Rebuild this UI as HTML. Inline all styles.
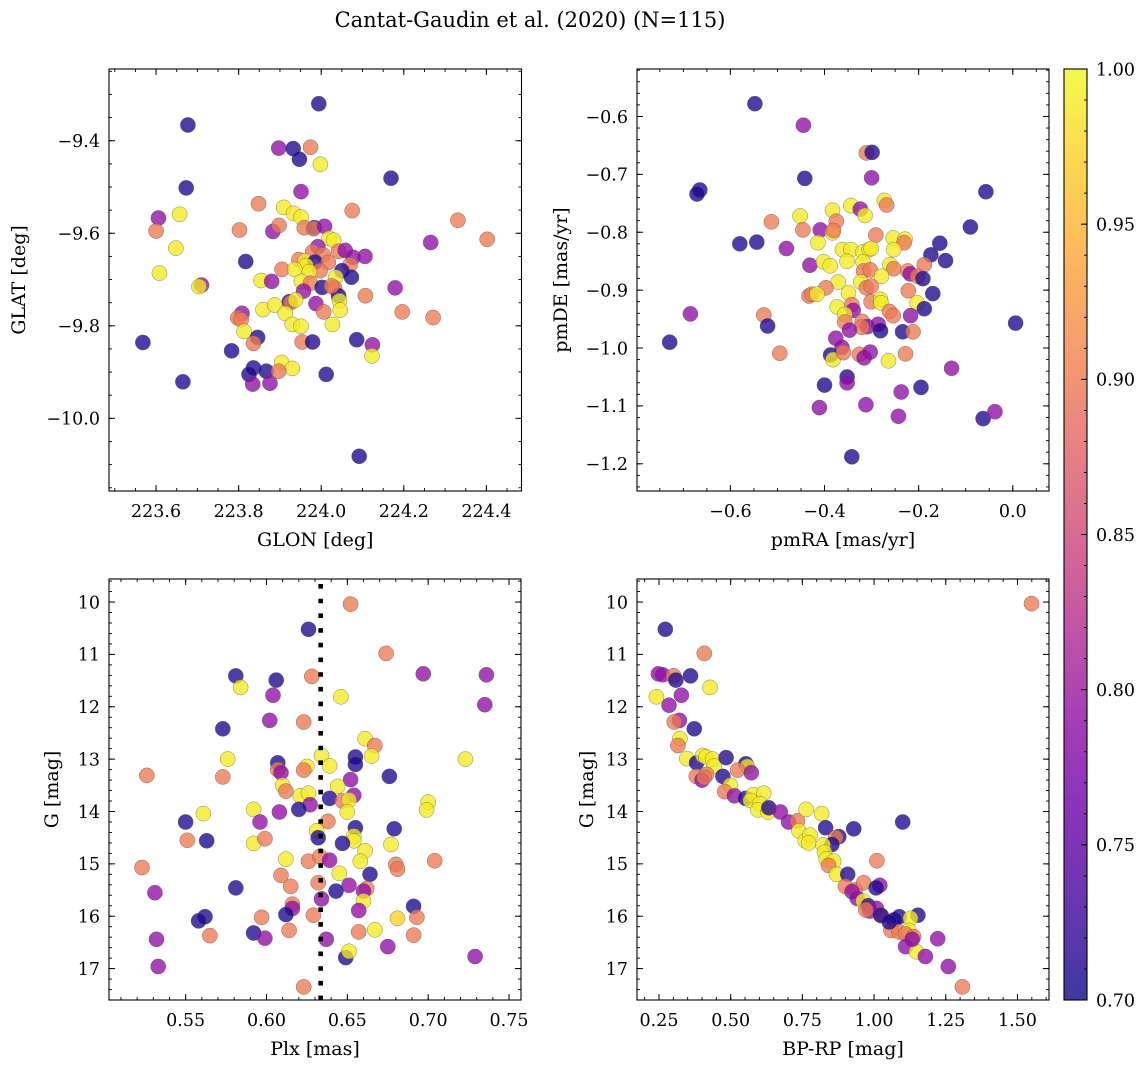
<!DOCTYPE html>
<html><head><meta charset="utf-8"><style>
html,body{margin:0;padding:0;background:#fff;}
svg text{font-family:"DejaVu Serif","Liberation Serif",serif;fill:#000;}
</style></head><body>
<svg id="fig" width="1148" height="1068" viewBox="0 0 1148 1068" xmlns="http://www.w3.org/2000/svg">
<defs><linearGradient id="plasma" x1="0" y1="1" x2="0" y2="0">
<stop offset="0" stop-color="#0d0887"/><stop offset="0.1" stop-color="#41049d"/><stop offset="0.2" stop-color="#6a00a8"/><stop offset="0.3" stop-color="#8f0da4"/><stop offset="0.4" stop-color="#b12a90"/><stop offset="0.5" stop-color="#cc4778"/><stop offset="0.6" stop-color="#e16462"/><stop offset="0.7" stop-color="#f2844b"/><stop offset="0.8" stop-color="#fca636"/><stop offset="0.9" stop-color="#fcce25"/><stop offset="1" stop-color="#f0f921"/>
</linearGradient></defs>
<text x="530" y="27" font-size="21" text-anchor="middle">Cantat-Gaudin et al. (2020) (N=115)</text>
</svg>
<script>
// Panel 1: GLON / GLAT
const glon=[223.994,223.677,223.897,223.932,223.974,223.947,223.998,224.169,223.673,223.951,223.848,223.909,223.933,223.951,224.075,223.657,223.606,223.600,223.802,223.883,223.898,223.959,223.983,223.981,224.008,224.331,224.402,224.265,223.648,224.019,224.030,223.992,223.979,224.005,224.042,224.058,224.077,224.106,223.817,223.946,223.961,223.985,223.963,224.017,223.997,224.070,223.608,223.905,223.936,223.971,224.050,224.073,223.854,223.880,223.952,223.974,224.035,223.710,223.704,224.002,224.032,223.957,224.179,224.042,224.044,224.107,223.923,223.926,223.938,223.987,224.046,223.859,223.887,223.913,224.006,224.196,224.271,223.808,223.798,223.806,223.930,223.951,224.027,223.813,223.846,223.836,223.568,223.783,223.954,223.979,224.086,224.124,224.123,223.904,223.930,223.836,223.825,223.867,223.897,224.012,223.665,223.834,223.876,224.092,224.025];
const glat=[-9.320,-9.366,-9.416,-9.417,-9.414,-9.440,-9.451,-9.481,-9.502,-9.510,-9.536,-9.544,-9.557,-9.565,-9.551,-9.559,-9.567,-9.595,-9.593,-9.596,-9.583,-9.588,-9.588,-9.590,-9.585,-9.572,-9.613,-9.620,-9.632,-9.611,-9.615,-9.629,-9.640,-9.647,-9.639,-9.637,-9.652,-9.650,-9.661,-9.657,-9.660,-9.662,-9.670,-9.663,-9.681,-9.668,-9.686,-9.678,-9.678,-9.683,-9.681,-9.695,-9.702,-9.704,-9.704,-9.708,-9.695,-9.712,-9.715,-9.717,-9.718,-9.725,-9.718,-9.735,-9.746,-9.735,-9.748,-9.750,-9.744,-9.752,-9.766,-9.765,-9.755,-9.773,-9.770,-9.770,-9.782,-9.773,-9.783,-9.787,-9.797,-9.801,-9.797,-9.812,-9.825,-9.838,-9.836,-9.854,-9.835,-9.835,-9.830,-9.841,-9.865,-9.879,-9.892,-9.891,-9.905,-9.898,-9.898,-9.905,-9.921,-9.926,-9.924,-10.082,-9.714];
const prob1=[0.71,0.71,0.79,0.71,0.90,0.71,0.99,0.71,0.71,0.79,0.90,0.99,0.99,0.99,0.90,0.99,0.79,0.90,0.90,0.79,0.90,0.90,0.71,0.90,0.79,0.90,0.90,0.79,0.99,0.99,0.99,0.79,0.90,0.90,0.90,0.79,0.79,0.79,0.71,0.90,0.99,0.71,0.99,0.90,0.90,0.90,0.99,0.90,0.99,0.99,0.71,0.71,0.99,0.79,0.99,0.90,0.99,0.79,0.99,0.71,0.90,0.79,0.79,0.71,0.99,0.90,0.71,0.90,0.99,0.79,0.99,0.99,0.99,0.99,0.90,0.90,0.90,0.79,0.90,0.90,0.99,0.99,0.99,0.99,0.71,0.90,0.71,0.71,0.90,0.71,0.71,0.79,0.99,0.99,0.99,0.71,0.71,0.71,0.90,0.71,0.71,0.79,0.79,0.71,0.90];
// Panel 2: proper motions
const pmra=[-0.548,-0.445,-0.311,-0.299,-0.442,-0.300,-0.665,-0.671,-0.057,-0.273,-0.268,-0.452,-0.383,-0.344,-0.324,-0.314,-0.513,-0.446,-0.409,-0.375,-0.383,-0.381,-0.090,-0.291,-0.580,-0.544,-0.481,-0.414,-0.362,-0.344,-0.318,-0.305,-0.301,-0.254,-0.229,-0.231,-0.253,-0.155,-0.174,-0.143,-0.431,-0.402,-0.388,-0.352,-0.318,-0.317,-0.303,-0.261,-0.253,-0.188,-0.223,-0.218,-0.202,-0.191,-0.279,-0.371,-0.323,-0.397,-0.311,-0.301,-0.349,-0.222,-0.170,-0.433,-0.427,-0.416,-0.342,-0.301,-0.281,-0.280,-0.203,-0.188,-0.373,-0.339,-0.357,-0.262,-0.254,-0.217,-0.685,-0.529,-0.521,-0.357,-0.320,-0.309,-0.321,-0.347,-0.286,-0.281,-0.234,-0.212,-0.729,-0.376,-0.363,-0.387,-0.382,-0.360,-0.495,-0.326,-0.316,-0.303,-0.264,-0.228,-0.352,-0.352,-0.400,-0.130,-0.195,-0.237,-0.411,-0.312,-0.243,-0.063,-0.038,0.006,-0.342];
const pmde=[-0.578,-0.615,-0.663,-0.662,-0.707,-0.706,-0.727,-0.734,-0.730,-0.745,-0.753,-0.772,-0.762,-0.754,-0.760,-0.771,-0.782,-0.796,-0.796,-0.781,-0.801,-0.797,-0.791,-0.805,-0.820,-0.817,-0.828,-0.818,-0.830,-0.830,-0.834,-0.830,-0.828,-0.810,-0.812,-0.818,-0.830,-0.819,-0.839,-0.849,-0.857,-0.851,-0.858,-0.850,-0.851,-0.867,-0.865,-0.856,-0.863,-0.856,-0.867,-0.872,-0.876,-0.880,-0.876,-0.886,-0.886,-0.896,-0.896,-0.893,-0.905,-0.901,-0.906,-0.910,-0.907,-0.907,-0.925,-0.920,-0.916,-0.922,-0.922,-0.932,-0.929,-0.935,-0.942,-0.937,-0.944,-0.944,-0.941,-0.943,-0.962,-0.955,-0.954,-0.963,-0.964,-0.969,-0.959,-0.970,-0.972,-0.972,-0.990,-0.983,-0.999,-1.012,-1.020,-1.008,-1.009,-1.011,-1.017,-1.007,-1.022,-1.010,-1.050,-1.060,-1.064,-1.035,-1.068,-1.076,-1.103,-1.098,-1.118,-1.122,-1.110,-0.957,-1.188];
const prob2=[0.71,0.79,0.90,0.71,0.71,0.79,0.71,0.71,0.71,0.99,0.90,0.99,0.99,0.99,0.79,0.99,0.90,0.90,0.79,0.90,0.99,0.90,0.71,0.90,0.71,0.71,0.79,0.99,0.99,0.99,0.99,0.99,0.99,0.99,0.99,0.90,0.99,0.71,0.71,0.71,0.79,0.99,0.99,0.99,0.99,0.90,0.90,0.99,0.90,0.90,0.90,0.79,0.90,0.71,0.99,0.99,0.99,0.90,0.90,0.90,0.99,0.90,0.71,0.90,0.90,0.99,0.90,0.90,0.99,0.99,0.99,0.71,0.99,0.79,0.99,0.90,0.90,0.79,0.79,0.90,0.71,0.90,0.90,0.79,0.90,0.79,0.79,0.71,0.71,0.90,0.71,0.79,0.79,0.71,0.99,0.90,0.90,0.90,0.79,0.79,0.99,0.90,0.71,0.79,0.71,0.79,0.71,0.79,0.79,0.79,0.79,0.71,0.79,0.71,0.71];
// Panel 3: parallax vs G
const plx=[0.652,0.626,0.674,0.697,0.736,0.581,0.606,0.628,0.584,0.604,0.646,0.735,0.602,0.623,0.573,0.661,0.667,0.634,0.655,0.665,0.723,0.576,0.607,0.655,0.639,0.625,0.623,0.607,0.609,0.526,0.573,0.676,0.652,0.610,0.612,0.644,0.621,0.626,0.627,0.620,0.639,0.654,0.647,0.651,0.650,0.608,0.592,0.700,0.699,0.561,0.550,0.596,0.638,0.655,0.679,0.631,0.632,0.654,0.654,0.551,0.563,0.592,0.599,0.647,0.677,0.661,0.612,0.626,0.633,0.639,0.658,0.704,0.680,0.681,0.523,0.664,0.645,0.609,0.632,0.615,0.651,0.643,0.662,0.660,0.581,0.531,0.634,0.660,0.616,0.616,0.691,0.657,0.612,0.629,0.597,0.562,0.558,0.681,0.693,0.614,0.657,0.667,0.691,0.592,0.565,0.599,0.532,0.637,0.675,0.649,0.651,0.729,0.533,0.623];
const gmag3=[10.04,10.52,10.98,11.37,11.39,11.41,11.49,11.42,11.63,11.78,11.81,11.96,12.26,12.29,12.42,12.61,12.74,12.93,12.96,12.94,13.00,13.00,13.07,13.10,13.13,13.14,13.21,13.20,13.26,13.31,13.34,13.33,13.39,13.50,13.61,13.52,13.70,13.65,13.87,13.96,13.75,13.69,13.80,13.78,14.01,14.01,13.96,13.82,13.97,14.04,14.20,14.20,14.19,14.31,14.33,14.37,14.50,14.47,14.56,14.55,14.56,14.61,14.52,14.61,14.63,14.75,14.91,14.95,14.86,14.93,14.95,14.94,15.01,15.10,15.07,15.20,15.18,15.22,15.36,15.43,15.41,15.52,15.47,15.52,15.46,15.55,15.67,15.71,15.77,15.85,15.81,15.89,15.97,15.98,16.02,16.01,16.09,16.04,16.02,16.27,16.30,16.26,16.36,16.32,16.37,16.42,16.44,16.44,16.58,16.79,16.67,16.77,16.96,17.35];
const prob3=[0.90,0.71,0.90,0.79,0.79,0.71,0.71,0.90,0.99,0.79,0.99,0.79,0.79,0.90,0.71,0.99,0.90,0.99,0.71,0.99,0.99,0.99,0.71,0.71,0.99,0.99,0.90,0.90,0.79,0.90,0.90,0.71,0.79,0.99,0.90,0.99,0.99,0.99,0.79,0.71,0.71,0.79,0.90,0.99,0.99,0.79,0.99,0.99,0.99,0.99,0.71,0.79,0.90,0.71,0.71,0.99,0.71,0.99,0.99,0.90,0.71,0.99,0.90,0.71,0.99,0.99,0.99,0.90,0.90,0.79,0.99,0.90,0.90,0.90,0.90,0.71,0.99,0.90,0.90,0.90,0.79,0.71,0.90,0.79,0.71,0.79,0.79,0.99,0.90,0.79,0.71,0.79,0.71,0.90,0.90,0.71,0.71,0.97,0.90,0.90,0.90,0.99,0.90,0.71,0.90,0.79,0.79,0.79,0.79,0.71,0.99,0.79,0.79,0.90];
const plxRef=[0.6335];
// Panel 4: colour-magnitude
const bprp=[1.549,0.272,0.408,0.248,0.263,0.301,0.309,0.360,0.428,0.241,0.328,0.285,0.321,0.303,0.373,0.323,0.316,0.347,0.381,0.403,0.414,0.437,0.442,0.484,0.553,0.558,0.524,0.572,0.380,0.416,0.400,0.408,0.473,0.499,0.479,0.513,0.552,0.578,0.615,0.569,0.602,0.595,0.630,0.633,0.673,0.702,0.733,0.763,0.817,0.738,0.760,0.777,0.772,0.831,0.929,1.100,0.877,0.866,0.853,0.822,0.827,0.833,0.859,0.841,0.869,0.908,1.010,0.900,0.935,0.964,0.923,1.020,1.007,0.941,0.962,0.980,0.985,1.008,1.026,1.069,1.088,1.153,1.127,1.059,1.087,1.121,1.110,1.138,1.110,1.148,1.179,1.222,1.259,1.308,1.023,1.053,1.133,0.971];
const gmag4=[10.03,10.52,10.98,11.37,11.39,11.41,11.49,11.41,11.63,11.81,11.78,11.97,12.26,12.29,12.42,12.61,12.74,12.99,13.07,12.93,12.96,13.00,13.13,12.97,13.09,13.14,13.21,13.26,13.33,13.29,13.40,13.35,13.33,13.50,13.62,13.70,13.75,13.68,13.65,13.79,13.85,13.97,14.01,13.93,14.01,14.20,14.18,13.96,14.04,14.37,14.56,14.45,14.60,14.31,14.33,14.20,14.48,14.50,14.63,14.64,14.78,14.91,14.95,15.03,15.20,15.20,14.94,15.43,15.50,15.36,15.53,15.41,15.46,15.66,15.71,15.80,15.90,15.85,15.99,16.07,16.01,15.98,16.04,16.27,16.30,16.27,16.34,16.39,16.58,16.68,16.77,16.43,16.96,17.35,15.98,16.11,16.44,15.88];
const prob4=[0.90,0.71,0.90,0.79,0.79,0.90,0.71,0.71,0.99,0.99,0.79,0.79,0.79,0.90,0.71,0.99,0.90,0.99,0.71,0.99,0.99,0.99,0.99,0.71,0.71,0.99,0.90,0.79,0.90,0.90,0.79,0.90,0.71,0.99,0.90,0.79,0.71,0.99,0.99,0.99,0.99,0.99,0.99,0.71,0.79,0.79,0.90,0.99,0.99,0.99,0.99,0.99,0.99,0.71,0.71,0.71,0.71,0.90,0.71,0.99,0.99,0.99,0.99,0.90,0.99,0.71,0.90,0.90,0.90,0.90,0.79,0.79,0.71,0.79,0.99,0.71,0.79,0.79,0.90,0.71,0.71,0.71,0.99,0.90,0.90,0.99,0.90,0.90,0.79,0.99,0.79,0.79,0.79,0.90,0.71,0.71,0.79,0.90];
const cbarTicks=[0.70,0.75,0.80,0.85,0.90,0.95,1.00];

const NS='http://www.w3.org/2000/svg';
const svg=document.getElementById('fig');
const stops=[[13,8,135],[65,4,157],[106,0,168],[143,13,164],[177,42,144],[204,71,120],[225,100,98],[242,132,75],[252,166,54],[252,206,37],[240,249,33]];
function plasma(v){let t=Math.max(0,Math.min(1,(v-0.7)/0.3))*10;let i=Math.min(9,Math.floor(t)),f=t-i;const a=stops[i],b=stops[i+1];return 'rgb('+a.map((c,k)=>Math.round(c+(b[k]-c)*f)).join(',')+')';}
function mk(tag,attrs,parent){const e=document.createElementNS(NS,tag);for(const k in attrs)e.setAttribute(k,attrs[k]);(parent||svg).appendChild(e);return e;}
function fmt(v,d){let s=Math.abs(v)<1e-9?(0).toFixed(d):v.toFixed(d);return s.replace('-','\u2212');}
function ticks(a,b,step){const lo=Math.min(a,b),hi=Math.max(a,b);const out=[];for(let k=Math.ceil(lo/step-1e-6);k*step<=hi+1e-9;k++)out.push(+(k*step).toFixed(6));return out;}

const TF=17.5, LF=19;
function panel(o){
  const g=mk('g',{});
  
  
  const sx=v=>o.x0+(v-o.xd[0])/(o.xd[1]-o.xd[0])*(o.x1-o.x0);
  const sy=v=>o.y0+(v-o.yd[0])/(o.yd[1]-o.yd[0])*(o.y1-o.y0);
  const pg=mk('g',{},g);
  
  
  for(let i=0;i<o.xs.length;i++){
    const c=mk('circle',{cx:sx(o.xs[i]).toFixed(1),cy:sy(o.ys[i]).toFixed(1),r:7.6,fill:plasma(o.ps[i]),'fill-opacity':0.78,stroke:'#555','stroke-width':0.5,'stroke-opacity':0.7},pg);
    
    
  }
  if(o.vline){for(const v of o.vline){const l=mk('line',{x1:sx(v),x2:sx(v),y1:o.y0+5,y2:o.y1,stroke:'#000','stroke-width':4.6,'stroke-dasharray':'4.6 10.1'},g);
    
    }}
  const fr=mk('rect',{x:o.x0,y:o.y0,width:o.x1-o.x0,height:o.y1-o.y0,fill:'none',stroke:'#000','stroke-width':1.1},g);
  
  
  for(const v of ticks(o.xd[0],o.xd[1],o.xminor)){const x=sx(v);mk('line',{x1:x,x2:x,y1:o.y1,y2:o.y1-3,stroke:'#000','stroke-width':0.9},g);mk('line',{x1:x,x2:x,y1:o.y0,y2:o.y0+3,stroke:'#000','stroke-width':0.9},g);}
  for(const v of ticks(o.xd[0],o.xd[1],o.xmajor)){const x=sx(v);mk('line',{x1:x,x2:x,y1:o.y1,y2:o.y1-6,stroke:'#000','stroke-width':1},g);mk('line',{x1:x,x2:x,y1:o.y0,y2:o.y0+6,stroke:'#000','stroke-width':1},g);
    const t=mk('text',{x:x,y:o.y1+26,'font-size':TF,'text-anchor':'middle'},g);t.textContent=fmt(v,o.xdec);
    
    }
  for(const v of ticks(o.yd[0],o.yd[1],o.yminor)){const y=sy(v);mk('line',{x1:o.x0,x2:o.x0+3,y1:y,y2:y,stroke:'#000','stroke-width':0.9},g);mk('line',{x1:o.x1,x2:o.x1-3,y1:y,y2:y,stroke:'#000','stroke-width':0.9},g);}
  for(const v of ticks(o.yd[0],o.yd[1],o.ymajor)){const y=sy(v);mk('line',{x1:o.x0,x2:o.x0+6,y1:y,y2:y,stroke:'#000','stroke-width':1},g);mk('line',{x1:o.x1,x2:o.x1-6,y1:y,y2:y,stroke:'#000','stroke-width':1},g);
    const t=mk('text',{x:o.x0-9,y:y+6.3,'font-size':TF,'text-anchor':'end'},g);t.textContent=fmt(v,o.ydec);
    
    }
  const xl=mk('text',{x:(o.x0+o.x1)/2,y:o.y1+55,'font-size':LF,'text-anchor':'middle'},g);xl.textContent=o.xlabel;
  
  
  const yx=o.ylx, yy=(o.y0+o.y1)/2;
  const yl=mk('text',{x:yx,y:yy,'font-size':LF,'text-anchor':'middle',transform:'rotate(-90 '+yx+' '+yy+')'},g);yl.textContent=o.ylabel;
  
  
}

panel({name:'glon-glat-panel',xs:glon,ys:glat,ps:prob1,x0:109,x1:521.5,y0:69,y1:491,xd:[223.486,224.485],yd:[-9.245,-10.157],xmajor:0.2,xminor:0.05,ymajor:0.2,yminor:0.05,xdec:1,ydec:1,xlabel:'GLON [deg]',ylabel:'GLAT [deg]',ylx:25});
panel({name:'proper-motion-panel',xs:pmra,ys:pmde,ps:prob2,x0:637,x1:1049,y0:69,y1:491,xd:[-0.7985,0.077],yd:[-0.518,-1.247],xmajor:0.2,xminor:0.05,ymajor:0.1,yminor:0.02,xdec:1,ydec:1,xlabel:'pmRA [mas/yr]',ylabel:'pmDE [mas/yr]',ylx:567});
panel({name:'parallax-magnitude-panel',xs:plx,ys:gmag3,ps:prob3,x0:109,x1:521,y0:579,y1:1000,xd:[0.5026,0.7574],yd:[9.56,17.6],xmajor:0.05,xminor:0.01,ymajor:1,yminor:0.2,xdec:2,ydec:0,xlabel:'Plx [mas]',ylabel:'G [mag]',ylx:58,vline:plxRef});
panel({name:'color-magnitude-panel',xs:bprp,ys:gmag4,ps:prob4,x0:637,x1:1049,y0:579,y1:1000,xd:[0.1733,1.610],yd:[9.56,17.6],xmajor:0.25,xminor:0.05,ymajor:1,yminor:0.2,xdec:2,ydec:0,xlabel:'BP-RP [mag]',ylabel:'G [mag]',ylx:593});

const cb=mk('g',{});


const cx0=1064,cx1=1087,cy0=69,cy1=1000;
const cbs=v=>cy1-(v-0.7)/0.3*(cy1-cy0);
mk('rect',{x:cx0,y:cy0,width:cx1-cx0,height:cy1-cy0,fill:'url(#plasma)','fill-opacity':0.8},cb);
mk('rect',{x:cx0,y:cy0,width:cx1-cx0,height:cy1-cy0,fill:'none',stroke:'#000','stroke-width':1.1},cb);
for(const v of ticks(0.7,1.0,0.01)){const y=cbs(v);mk('line',{x1:cx1,x2:cx1-3,y1:y,y2:y,stroke:'#000','stroke-width':0.9},cb);}
for(const v of cbarTicks){const y=cbs(v);mk('line',{x1:cx1,x2:cx1-6,y1:y,y2:y,stroke:'#000','stroke-width':1},cb);
  const t=mk('text',{x:cx1+9,y:y+6.3,'font-size':TF},cb);t.textContent=v.toFixed(2);
  
  }
</script>
</body></html>
